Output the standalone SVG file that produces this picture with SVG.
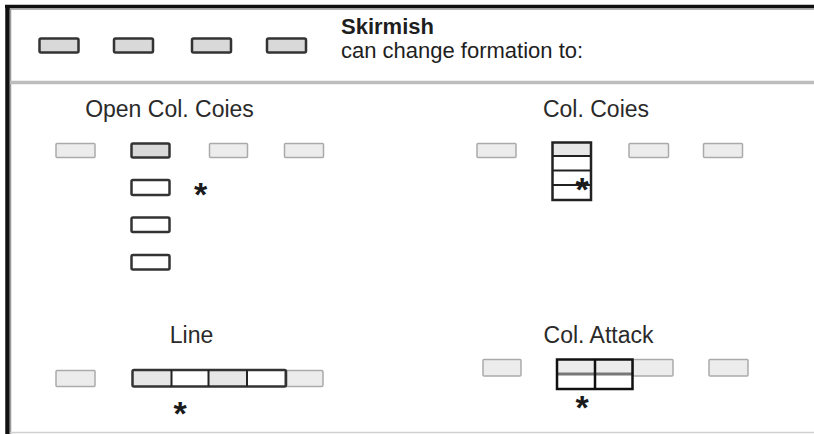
<svg xmlns="http://www.w3.org/2000/svg" width="814" height="434" viewBox="0 0 814 434">
  <style>
    .lbl { font-family: "Liberation Sans", Arial, sans-serif; font-size: 23px; fill: #2a2a2a; }
    .hdr { font-family: "Liberation Sans", Arial, sans-serif; font-size: 22px; fill: #1e1e1e; }
    .star { font-family: "Liberation Sans", Arial, sans-serif; font-size: 34px; font-weight: bold; fill: #1a1a1a; text-anchor: middle; }
    .unit { fill: #d9d9d9; stroke: #333; stroke-width: 2.5; }
    .open { fill: #ffffff; stroke: #333; stroke-width: 2.5; }
    .ghost { fill: #ececec; stroke: #aaaaaa; stroke-width: 1.5; }
    .div { stroke: #222; stroke-width: 2; }
  </style>
  <rect width="814" height="434" fill="#ffffff"/>

  <!-- frame -->
  <g id="frame">
    <line x1="5" y1="6.5" x2="814" y2="6.5" stroke="#111" stroke-width="3.5"/>
    <line x1="9" y1="9" x2="814" y2="9" stroke="#999" stroke-width="1.5"/>
    <line x1="7.5" y1="5" x2="7.5" y2="434" stroke="#111" stroke-width="4.5"/>
    <line x1="10.5" y1="9" x2="10.5" y2="434" stroke="#999" stroke-width="1.5"/>
    <line x1="10" y1="82.5" x2="814" y2="82.5" stroke="#bdbdbd" stroke-width="3.5"/>
    <line x1="10" y1="432.5" x2="814" y2="432.5" stroke="#cfcfcf" stroke-width="1.5"/>
  </g>

  <!-- header: skirmish order -->
  <g id="skirmish">
    <rect class="unit" x="39.5" y="38.5" width="39" height="14" rx="1.5"/>
    <rect class="unit" x="114" y="38.5" width="39" height="14" rx="1.5"/>
    <rect class="unit" x="192" y="38.5" width="39" height="14" rx="1.5"/>
    <rect class="unit" x="267" y="38.5" width="39" height="14" rx="1.5"/>
    <text class="hdr" x="341" y="34" font-size="24" font-weight="bold">Skirmish</text>
    <text class="hdr" x="341" y="58">can change formation to:</text>
  </g>

  <!-- open column of companies -->
  <g id="open-col-coies">
    <text class="lbl" x="169.5" y="116.5" text-anchor="middle">Open Col. Coies</text>
    <rect class="ghost" x="56" y="143.5" width="39" height="14" rx="1"/>
    <rect class="ghost" x="209.5" y="143.5" width="38" height="14" rx="1"/>
    <rect class="ghost" x="284.5" y="143.5" width="39" height="14" rx="1"/>
    <rect class="unit" x="131.5" y="143.5" width="38" height="14" rx="1.5"/>
    <rect class="open" x="131.5" y="180" width="38" height="15" rx="1.5"/>
    <rect class="open" x="131.5" y="217.5" width="38" height="14.5" rx="1.5"/>
    <rect class="open" x="131.5" y="255" width="38" height="14.5" rx="1.5"/>
    <text class="star" x="200.5" y="206">*</text>
  </g>

  <!-- column of companies -->
  <g id="col-coies">
    <text class="lbl" x="596" y="116.5" text-anchor="middle">Col. Coies</text>
    <rect class="ghost" x="477" y="143.5" width="39" height="14" rx="1"/>
    <rect class="ghost" x="629" y="143.5" width="39.5" height="14" rx="1"/>
    <rect class="ghost" x="703.5" y="143.5" width="39" height="14" rx="1"/>
    <rect x="552.5" y="142.5" width="38.5" height="13.5" fill="#e8e8e8"/>
    <rect x="552.5" y="142.5" width="38.5" height="57.5" fill="none" stroke="#222" stroke-width="2.5"/>
    <line class="div" x1="552.5" y1="156" x2="591" y2="156"/>
    <line class="div" x1="552.5" y1="170.5" x2="591" y2="170.5"/>
    <line class="div" x1="552.5" y1="185" x2="591" y2="185"/>
    <text class="star" x="582" y="200.5">*</text>
  </g>

  <!-- line -->
  <g id="line">
    <text class="lbl" x="191.5" y="343" text-anchor="middle">Line</text>
    <rect class="ghost" x="56" y="370.5" width="39" height="16" rx="1"/>
    <rect class="ghost" x="285" y="370.5" width="38" height="16" rx="1.5"/>
    <rect x="132.5" y="370" width="39" height="16.5" fill="#e6e6e6"/>
    <rect x="208.5" y="370" width="38.5" height="16.5" fill="#e6e6e6"/>
    <rect x="132.5" y="370" width="153.5" height="16.5" rx="1.5" fill="none" stroke="#333" stroke-width="2.5"/>
    <line class="div" x1="171.5" y1="370" x2="171.5" y2="386.5"/>
    <line class="div" x1="208.5" y1="370" x2="208.5" y2="386.5"/>
    <line class="div" x1="247" y1="370" x2="247" y2="386.5"/>
    <text class="star" x="180" y="425">*</text>
  </g>

  <!-- column of attack -->
  <g id="col-attack">
    <text class="lbl" x="598.5" y="343" text-anchor="middle">Col. Attack</text>
    <rect class="ghost" x="483" y="359.5" width="38" height="16.5" rx="1"/>
    <rect class="ghost" x="633" y="359.5" width="40" height="16.5" rx="1"/>
    <rect class="ghost" x="709" y="359.5" width="39" height="16.5" rx="1"/>
    <rect x="557" y="359.5" width="75.5" height="14" fill="#ececec"/>
    <line x1="557" y1="374" x2="632.5" y2="374" stroke="#777" stroke-width="3"/>
    <rect x="557" y="359.5" width="75.5" height="29.5" fill="none" stroke="#111" stroke-width="2.5"/>
    <line x1="595" y1="359.5" x2="595" y2="389" stroke="#111" stroke-width="2.5"/>
    <text class="star" x="582" y="419">*</text>
  </g>
</svg>
